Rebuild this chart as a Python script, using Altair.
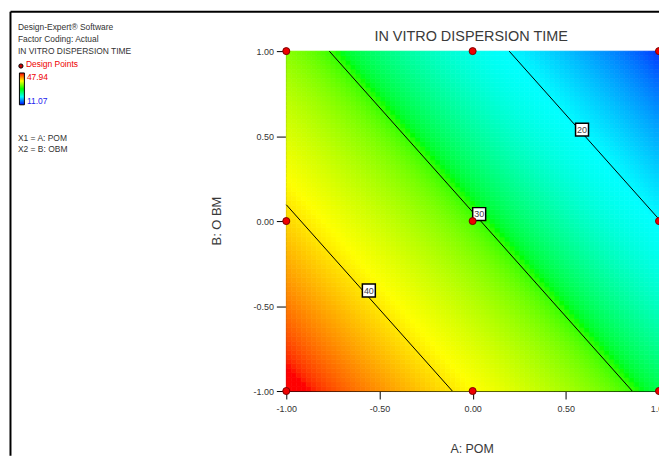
import altair as alt
import pandas as pd
import numpy as np

# ---- data ----
design_A = [-1, 0, 1, -1, 0, 1, -1, 0, 1]
design_B = [1, 1, 1, 0, 0, 0, -1, -1, -1]

coef_b0 = 30.45
coef_b1 = -10.36
coef_b2 = -8.42

contour_levels = [20, 30, 40]
label_A = [0.587, 0.035, -0.557]
label_B = [0.538, 0.041, -0.409]

resp_min = 11.07
resp_max = 47.94

tick_vals = [-1.0, -0.5, 0.0, 0.5, 1.0]

FONT = "Liberation Sans Narrow, Liberation Sans, Arial"

# ---- tables ----
n = 75
step = 2.0 / n
centers = [-1 + step * (i + 0.5) for i in range(n)]
rows = []
for a in centers:
    for b in centers:
        rows.append({"A": a - step / 2, "A2": a + step / 2,
                     "B": b - step / 2, "B2": b + step / 2,
                     "Y": coef_b0 + coef_b1 * a + coef_b2 * b})
grid = pd.DataFrame(rows)

line_rows = []
for L in contour_levels:
    pts = []
    for a in (-1.0, 1.0):
        b = (L - coef_b0 - coef_b1 * a) / coef_b2
        if -1 <= b <= 1:
            pts.append((a, b))
    for b in (-1.0, 1.0):
        a = (L - coef_b0 - coef_b2 * b) / coef_b1
        if -1 <= a <= 1:
            pts.append((a, b))
    pts.sort()
    for i, (a, b) in enumerate(pts):
        line_rows.append({"level": L, "order": i, "A": a, "B": b})
lines = pd.DataFrame(line_rows)

labels = pd.DataFrame({"A": label_A, "B": label_B, "level": [str(v) for v in contour_levels]})
design = pd.DataFrame({"A": design_A, "B": design_B})

W, H = 375, 342
PAD_L, PAD_T, PAD_R, PAD_B = 280, 42, 0, 65
LABEL_EXPR = "(datum.value < 0 ? '-' : '') + format(abs(datum.value), '.2f')"
xscale = alt.Scale(domain=[-1, 1], nice=False, zero=False)
yscale = alt.Scale(domain=[-1, 1], nice=False, zero=False)
xaxis = alt.Axis(values=tick_vals, labelExpr=LABEL_EXPR, grid=False, title=None,
                 tickSize=8, labelPadding=6, labelFontSize=9, labelFont=FONT,
                 labelColor="#333333", tickColor="#000000", domainColor="#000000",
                 labelFlush=False)
yaxis = alt.Axis(values=tick_vals, labelExpr=LABEL_EXPR, grid=False, title=None,
                 tickSize=10, labelPadding=3, labelFontSize=9, labelFont=FONT,
                 labelColor="#333333", tickColor="#000000", domainColor="#000000",
                 labelFlush=False)

X = alt.X("A:Q", scale=xscale, axis=xaxis)
Y = alt.Y("B:Q", scale=yscale, axis=yaxis)

cscale = alt.Scale(domain=[resp_min, resp_min + (resp_max - resp_min) * 0.25,
                           resp_min + (resp_max - resp_min) * 0.5,
                           resp_min + (resp_max - resp_min) * 0.75, resp_max],
                   range=["#0000ff", "#00ffff", "#00ff00", "#ffff00", "#ff0000"],
                   clamp=True)

heat = alt.Chart(grid).mark_rect(strokeWidth=0.7).encode(
    x=X, x2="A2:Q", y=Y, y2="B2:Q",
    color=alt.Color("Y:Q", scale=cscale, legend=None),
    stroke=alt.Stroke("Y:Q", scale=cscale, legend=None),
)

clines = alt.Chart(lines).mark_line(color="#000000", strokeWidth=1).encode(
    x=X, y=Y, detail="level:N", order="order:Q")

boxes = alt.Chart(labels).mark_square(size=170, fill="#ffffff", stroke="#000000",
                                      strokeWidth=1.5, opacity=1).encode(x=X, y=Y)
btext = alt.Chart(labels).mark_text(fontSize=9, font=FONT, color="#444444").encode(
    x=X, y=Y, text="level:N")

pts = alt.Chart(design).mark_circle(size=50, color="#ee0000", stroke="#7a0000",
                                    strokeWidth=1, opacity=1).encode(x=X, y=Y)

one = pd.DataFrame({"k": [0]})
OX, OY = 8 + PAD_L, 8 + PAD_T


def txt(s, px, py, size=9, color="#333333", align="left", angle=0, baseline="middle"):
    kw = dict(fontSize=size, font=FONT, color=color, align=align, baseline=baseline)
    if angle:
        kw["angle"] = angle
    return alt.Chart(one).mark_text(**kw).encode(
        x=alt.value(px - OX), y=alt.value(py - OY), text=alt.value(s))


texts = [
    txt("IN VITRO DISPERSION TIME", 474, 36, size=14.5, color="#3a3a3a", align="center"),
    txt("A: POM", 475, 450, size=12.5, color="#3a3a3a", align="center"),
    txt("B: O BM", 218, 221, size=13, color="#3a3a3a", align="center", angle=270),
    txt("Design-Expert® Software", 18, 26, size=8.5),
    txt("Factor Coding: Actual", 18, 38, size=8.5),
    txt("IN VITRO DISPERSION TIME", 18, 50, size=8.5),
    txt("Design Points", 26, 63, size=8.5, color="#ee0000"),
    txt("47.94", 27, 76, size=8.5, color="#ee0000"),
    txt("11.07", 27, 100, size=8.5, color="#2222ee"),
    txt("X1 = A: POM", 18, 137, size=8.5),
    txt("X2 = B: OBM", 18, 149, size=8.5),
]

legend_dot = alt.Chart(one).mark_circle(size=18, color="#cc0000", stroke="#000000",
                                        strokeWidth=1, opacity=1).encode(
    x=alt.value(21 - OX), y=alt.value(65 - OY))

cbar = alt.Chart(one).mark_rect(
    fill=alt.Gradient(gradient="linear",
                      stops=[alt.GradientStop(color="#ff0000", offset=0),
                             alt.GradientStop(color="#ffff00", offset=0.25),
                             alt.GradientStop(color="#00ff00", offset=0.5),
                             alt.GradientStop(color="#00ffff", offset=0.75),
                             alt.GradientStop(color="#0000ff", offset=1)],
                      x1=0, x2=0, y1=0, y2=1),
    stroke="#000000", strokeWidth=1).encode(
    x=alt.value(19.5 - OX), x2=alt.value(24.5 - OX),
    y=alt.value(72 - OY), y2=alt.value(104 - OY))

canvas_right = W + PAD_R
canvas_bottom = H + PAD_B
frame_left = alt.Chart(one).mark_rule(color="#000000", strokeWidth=2).encode(
    x=alt.value(10.5 - OX), y=alt.value(10.5 - OY), y2=alt.value(canvas_bottom))
frame_top = alt.Chart(one).mark_rule(color="#000000", strokeWidth=2).encode(
    x=alt.value(10.5 - OX), x2=alt.value(canvas_right), y=alt.value(10.5 - OY))

chart = alt.layer(heat, clines, boxes, btext, pts, legend_dot, cbar, frame_left, frame_top,
                  *texts).properties(
    width=W, height=H,
    padding={"left": PAD_L, "top": PAD_T, "right": PAD_R, "bottom": PAD_B},
    autosize=alt.AutoSizeParams(type="none"),
).configure_view(stroke="#000000", strokeWidth=1.5).configure(background="#ffffff")

chart.save("out.html", embed_options={"renderer": "svg", "actions": False})
